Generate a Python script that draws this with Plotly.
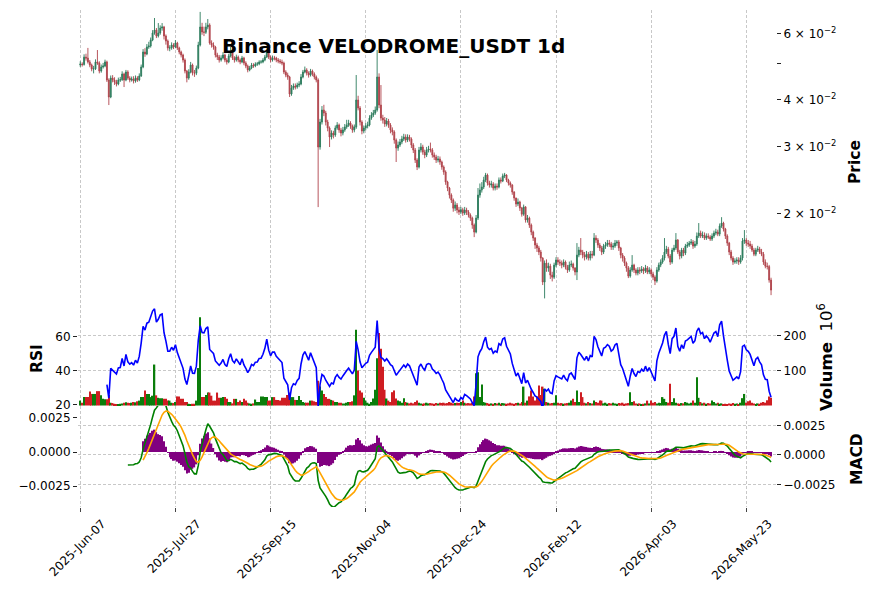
import numpy as np
import pandas as pd
import plotly.graph_objects as go

# ---------------- data (prices in 1e-5 USDT, volume in millions) ----------------
start_date = "2025-06-07"
first_open_e5 = 4950

close_e5 = [
    4976, 4960, 5190, 5160, 5040, 4946, 4826, 4830, 5040, 5007,
    4768, 4887, 4916, 5040, 4513, 4068, 4568, 4513, 4458, 4404,
    4513, 4520, 4681, 4513, 4739, 4568, 4513, 4541, 4486, 4568,
    4513, 4625, 4887, 5354, 5289, 5521, 5554, 5761, 6014, 6124,
    5904, 6014, 6199, 6237, 5904, 5726, 5487, 5490, 5588, 5521,
    5657, 5487, 5354, 5257, 5099, 4768, 4568, 4739, 4946, 4710,
    4705, 4856, 5588, 6237, 6050, 6040, 6237, 6313, 5657, 5588,
    5521, 5257, 5193, 5099, 5162, 5257, 5099, 5037, 5225, 5354,
    5162, 5099, 5193, 5099, 5037, 5162, 5007, 4916, 4797, 4856,
    4946, 4916, 4976, 4980, 5037, 5040, 5099, 5193, 5354, 5193,
    5099, 5162, 5160, 5099, 5068, 5037, 5007, 4739, 4653, 4597,
    4143, 4298, 4351, 4324, 4377, 4404, 4597, 4739, 4797, 4710,
    4653, 4768, 4681, 4597, 4513, 2998, 3492, 3758, 3690, 3492,
    3366, 3187, 3265, 3226, 3366, 3429, 3326, 3265, 3326, 3387,
    3429, 3471, 3408, 3326, 3387, 3994, 3804, 3492, 3306, 3366,
    3408, 3429, 3578, 3645, 3690, 3758, 4597, 3874, 3578, 3535,
    3450, 3514, 3429, 3326, 3286, 3129, 2979, 3035, 3092, 3148,
    3187, 3129, 3187, 3148, 3035, 2943, 2769, 2654, 2943, 2998,
    2907, 2855, 2943, 2961, 2945, 2855, 2820, 2769, 2786, 2736,
    2654, 2574, 2422, 2334, 2236, 2169, 2064, 2104, 2041, 2016,
    2045, 2004, 2041, 2016, 1979, 1943, 1862, 1784, 1943, 2236,
    2306, 2348, 2451, 2527, 2406, 2377, 2391, 2334, 2362, 2348,
    2451, 2436, 2512, 2527, 2451, 2406, 2377, 2278, 2196, 2117,
    2143, 2066, 1990, 2080, 1920, 1943, 1862, 1784, 1720, 1648,
    1619, 1579, 1522, 1315, 1476, 1432, 1449, 1372, 1355, 1458,
    1504, 1486, 1476, 1458, 1486, 1440, 1415, 1458, 1467, 1432,
    1398, 1550, 1598, 1579, 1550, 1531, 1559, 1522, 1560, 1550,
    1720, 1699, 1648, 1619, 1579, 1638, 1648, 1668, 1658, 1628,
    1638, 1668, 1679, 1619, 1550, 1522, 1476, 1432, 1364, 1415,
    1458, 1415, 1389, 1415, 1407, 1424, 1407, 1432, 1398, 1415,
    1381, 1355, 1323, 1415, 1458, 1486, 1522, 1579, 1608, 1541,
    1486, 1598, 1619, 1699, 1579, 1541, 1598, 1569, 1638, 1648,
    1668, 1679, 1638, 1658, 1741, 1773, 1741, 1752, 1720, 1741,
    1730, 1710, 1741, 1773, 1784, 1762, 1851, 1885, 1817, 1741,
    1668, 1579, 1522, 1486, 1495, 1504, 1486, 1522, 1689, 1699,
    1668, 1658, 1638, 1598, 1559, 1598, 1608, 1579, 1559, 1486,
    1449, 1445, 1331, 1252,
]

high_e5 = [
    5060, 5030, 5280, 5300, 5490, 5100, 4990, 4920, 5120, 5420,
    5060, 4960, 5010, 5110, 5080, 4560, 4640, 4650, 4590, 4520,
    4580, 4600, 4760, 4720, 4800, 4790, 4620, 4610, 4620, 4640,
    4620, 4700, 4960, 5450, 5480, 5620, 5700, 5850, 6120, 6590,
    6200, 6390, 6300, 6390, 6280, 5960, 5780, 5580, 5680, 5650,
    5760, 5700, 5530, 5400, 5300, 5150, 4800, 4820, 5040, 4990,
    4800, 4930, 5700, 6840, 6400, 6250, 6400, 6550, 6380, 5750,
    5680, 5560, 5330, 5260, 5250, 5350, 5300, 5160, 5300, 5520,
    5400, 5220, 5270, 5240, 5150, 5230, 5200, 5060, 4960, 4920,
    5010, 5000, 5030, 5040, 5090, 5100, 5160, 5260, 5430, 5390,
    5240, 5240, 5230, 5200, 5160, 5130, 5110, 5050, 4790, 4720,
    4630, 4380, 4420, 4420, 4440, 4480, 4680, 4800, 4900, 4850,
    4760, 4830, 4810, 4730, 4640, 4560, 3560, 3850, 3880, 3740,
    3540, 3400, 3320, 3310, 3420, 3490, 3460, 3370, 3390, 3450,
    3540, 3540, 3510, 3440, 3440, 4653, 4100, 3850, 3530, 3420,
    3470, 3500, 3640, 3710, 3760, 3840, 5420, 4700, 4377, 3650,
    3600, 3580, 3560, 3470, 3380, 3320, 3160, 3100, 3150, 3210,
    3250, 3240, 3240, 3230, 3180, 3070, 2980, 2800, 3000, 3070,
    3040, 2950, 3000, 3020, 3080, 2980, 2900, 2860, 2840, 2830,
    2760, 2680, 2600, 2440, 2350, 2260, 2190, 2150, 2130, 2080,
    2080, 2070, 2080, 2070, 2040, 2000, 1960, 1880, 1980, 2334,
    2400, 2420, 2500, 2560, 2550, 2440, 2440, 2420, 2400, 2400,
    2490, 2490, 2550, 2560, 2540, 2470, 2430, 2390, 2290, 2200,
    2190, 2160, 2080, 2110, 2090, 1980, 1960, 1880, 1800, 1730,
    1670, 1640, 1600, 1530, 1500, 1510, 1480, 1470, 1400, 1480,
    1530, 1530, 1510, 1500, 1510, 1500, 1460, 1490, 1500, 1480,
    1440, 1668, 1630, 1720, 1600, 1580, 1590, 1580, 1590, 1590,
    1773, 1750, 1720, 1670, 1640, 1660, 1680, 1700, 1700, 1680,
    1670, 1700, 1699, 1700, 1630, 1570, 1540, 1490, 1450, 1440,
    1550, 1470, 1430, 1440, 1440, 1450, 1440, 1460, 1450, 1440,
    1430, 1400, 1370, 1440, 1480, 1510, 1550, 1720, 1640, 1630,
    1560, 1620, 1650, 1773, 1710, 1600, 1620, 1620, 1660, 1680,
    1690, 1710, 1700, 1690, 1780, 1885, 1800, 1790, 1780, 1770,
    1770, 1750, 1770, 1800, 1820, 1810, 1880, 1954, 1900, 1830,
    1760, 1680, 1600, 1540, 1520, 1530, 1530, 1550, 1720, 1806,
    1720, 1700, 1690, 1660, 1620, 1620, 1640, 1630, 1610, 1580,
    1510, 1480, 1460, 1350,
]

low_e5 = [
    4890, 4900, 4930, 5080, 4990, 4880, 4760, 4700, 4800, 4950,
    4700, 4720, 4840, 4880, 4460, 3874, 4040, 4450, 4380, 4340,
    4370, 4460, 4490, 4324, 4480, 4520, 4450, 4470, 4420, 4440,
    4460, 4480, 4600, 4850, 5200, 5250, 5460, 5500, 5720, 5950,
    5830, 5850, 5950, 6100, 5780, 5600, 5400, 5380, 5430, 5450,
    5480, 5420, 5280, 5180, 5020, 4700, 4450, 4520, 4700, 4640,
    4600, 4650, 4820, 5540, 5950, 5900, 5980, 6150, 5600, 5500,
    5430, 5180, 5100, 5020, 5050, 5120, 5030, 4960, 5000, 5180,
    5100, 5020, 5050, 5030, 4970, 5000, 4940, 4850, 4730, 4760,
    4820, 4860, 4880, 4920, 4940, 4990, 5000, 5060, 5160, 5130,
    5030, 5050, 5090, 5030, 5000, 4980, 4940, 4680, 4590, 4520,
    4068, 4100, 4250, 4260, 4280, 4320, 4370, 4560, 4700, 4640,
    4580, 4610, 4620, 4530, 4450, 2078, 2950, 3440, 3620, 3420,
    3300, 2998, 3140, 3160, 3190, 3330, 3270, 3200, 3220, 3290,
    3350, 3390, 3350, 3270, 3280, 3350, 3750, 3420, 3240, 3260,
    3320, 3360, 3400, 3540, 3600, 3650, 3720, 3800, 3520, 3460,
    3390, 3400, 3370, 3260, 3220, 3060, 2736, 2930, 3000, 3050,
    3110, 3080, 3090, 3100, 2980, 2890, 2720, 2605, 2630, 2900,
    2860, 2800, 2820, 2900, 2900, 2810, 2770, 2720, 2730, 2690,
    2610, 2530, 2380, 2290, 2190, 2130, 2020, 2030, 2000, 1980,
    1990, 1970, 1980, 1980, 1950, 1910, 1820, 1730, 1770, 1920,
    2200, 2270, 2320, 2420, 2370, 2340, 2340, 2300, 2300, 2310,
    2330, 2400, 2420, 2480, 2420, 2370, 2340, 2240, 2160, 2080,
    2090, 2030, 1960, 1970, 1890, 1890, 1830, 1750, 1690, 1610,
    1580, 1550, 1490, 1291, 1190, 1400, 1400, 1340, 1320, 1340,
    1440, 1460, 1450, 1430, 1440, 1420, 1390, 1400, 1440, 1410,
    1370, 1331, 1530, 1550, 1520, 1500, 1510, 1500, 1500, 1520,
    1540, 1670, 1620, 1590, 1550, 1560, 1610, 1630, 1630, 1600,
    1600, 1620, 1640, 1590, 1520, 1490, 1450, 1400, 1347, 1350,
    1400, 1390, 1370, 1370, 1380, 1390, 1380, 1390, 1380, 1380,
    1360, 1330, 1291, 1310, 1400, 1440, 1470, 1500, 1560, 1520,
    1460, 1470, 1580, 1600, 1560, 1510, 1520, 1540, 1550, 1620,
    1630, 1650, 1610, 1620, 1640, 1720, 1720, 1720, 1700, 1700,
    1710, 1690, 1690, 1720, 1750, 1740, 1740, 1830, 1790, 1710,
    1640, 1550, 1500, 1460, 1470, 1470, 1460, 1470, 1500, 1660,
    1640, 1630, 1610, 1580, 1540, 1540, 1580, 1560, 1540, 1460,
    1430, 1420, 1310, 1214,
]

volume_m = [
    14, 8, 24, 24, 24, 40, 33, 33, 33, 41,
    41, 29, 19, 18, 18, 30, 8, 7, 5, 4,
    3, 5, 6, 8, 9, 8, 7, 8, 10, 9,
    12, 14, 24, 24, 43, 33, 33, 24, 28, 117,
    29, 22, 21, 21, 19, 19, 14, 14, 8, 7,
    10, 26, 26, 19, 19, 10, 10, 5, 4, 5,
    5, 14, 107, 252, 24, 24, 30, 37, 37, 28,
    14, 14, 37, 22, 22, 24, 24, 19, 10, 10,
    6, 19, 19, 10, 14, 10, 19, 14, 8, 6,
    5, 6, 17, 10, 10, 26, 26, 24, 24, 14,
    14, 24, 24, 16, 16, 14, 22, 22, 22, 30,
    37, 24, 24, 16, 16, 27, 16, 10, 8, 8,
    8, 14, 14, 12, 10, 71, 54, 43, 33, 24,
    19, 19, 16, 14, 10, 10, 8, 8, 6, 6,
    8, 10, 10, 12, 29, 216, 100, 43, 37, 22,
    14, 8, 5, 10, 20, 45, 135, 207, 162, 111,
    45, 20, 14, 10, 38, 43, 20, 14, 12, 8,
    21, 10, 8, 6, 8, 6, 10, 14, 8, 6,
    5, 6, 8, 6, 7, 6, 5, 7, 6, 8,
    7, 8, 6, 7, 10, 8, 6, 7, 8, 7,
    10, 14, 8, 6, 7, 6, 8, 26, 92, 95,
    24, 60, 10, 8, 7, 5, 6, 5, 7, 6,
    8, 5, 7, 6, 5, 6, 8, 6, 5, 7,
    8, 6, 10, 54, 8, 14, 26, 43, 26, 14,
    26, 57, 30, 54, 48, 10, 8, 6, 7, 8,
    29, 8, 6, 7, 5, 6, 7, 8, 14, 19,
    10, 43, 10, 38, 24, 8, 6, 10, 7, 6,
    14, 10, 8, 14, 14, 6, 8, 5, 7, 6,
    8, 6, 5, 7, 6, 8, 5, 6, 7, 38,
    10, 12, 6, 5, 6, 4, 5, 6, 14, 6,
    14, 8, 10, 6, 8, 7, 24, 19, 10, 8,
    62, 10, 21, 8, 6, 5, 7, 6, 10, 8,
    6, 8, 14, 8, 81, 22, 10, 6, 8, 5,
    7, 6, 14, 10, 6, 8, 5, 6, 4, 5,
    4, 6, 5, 7, 5, 6, 4, 8, 21, 33,
    8, 12, 14, 8, 6, 4, 6, 5, 8, 10,
    8, 15, 26, 22,
]

price_ticks = [0.02, 0.03, 0.04, 0.05, 0.06]
price_ticktext = ["2 × 10<sup>−2</sup>", "3 × 10<sup>−2</sup>", "4 × 10<sup>−2</sup>", " ",
                  "6 × 10<sup>−2</sup>"]
rsi_ticks = [20, 40, 60]
vol_ticks = [100, 200]
macd_ticks = [-0.0025, 0.0, 0.0025]
macd_ticktext = ["−0.0025", "0.0000", "0.0025"]

# ---------------- derived series ----------------
N = min(len(close_e5), len(high_e5), len(low_e5), len(volume_m))
close = np.array(close_e5[:N], dtype=float) / 1e5
high = np.array(high_e5[:N], dtype=float) / 1e5
low = np.array(low_e5[:N], dtype=float) / 1e5
opens = np.concatenate([[first_open_e5 / 1e5], close[:-1]])
vol = np.array(volume_m[:N], dtype=float)
dates = pd.date_range(start_date, periods=N, freq="D")
xi = np.arange(N)

s = pd.Series(close)
d = s.diff()
gain = d.clip(lower=0)
loss = -d.clip(upper=0)
ag = gain.ewm(alpha=1 / 14, adjust=False, min_periods=14).mean()
al = loss.ewm(alpha=1 / 14, adjust=False, min_periods=14).mean()
rsi = 100 - 100 / (1 + ag / al)

e12 = s.ewm(span=12, adjust=False, min_periods=12).mean()
e26 = s.ewm(span=26, adjust=False, min_periods=26).mean()
macd = e12 - e26
signal = macd.ewm(span=9, adjust=False, min_periods=9).mean()
hist = macd - signal

UP, DOWN = "#2b7c5c", "#b0434b"
VGREEN, VRED = "#0a7d0a", "#cf1d22"
vcolors = [VGREEN if c >= o else VRED for c, o in zip(close, opens)]

tick_idx = list(range(0, N, 50))
tick_txt = [dates[i].strftime("%Y-%b-%d") for i in tick_idx]

FONT = "DejaVu Sans"
GRID = "#c8c8c8"
DASH = "3px,2px"

fig = go.Figure()
fig.add_trace(go.Candlestick(
    x=xi, open=opens, high=high, low=low, close=close,
    increasing=dict(line=dict(color=UP, width=0.9), fillcolor=UP),
    decreasing=dict(line=dict(color=DOWN, width=0.9), fillcolor=DOWN),
    whiskerwidth=0, xaxis="x", yaxis="y", hoverinfo="skip", showlegend=False))
fig.add_trace(go.Bar(x=xi, y=vol, marker=dict(color=vcolors, line=dict(width=0)),
                     width=0.8, xaxis="x2", yaxis="y2", showlegend=False, hoverinfo="skip"))
fig.add_trace(go.Scatter(x=xi, y=rsi, mode="lines", line=dict(color="#0000ff", width=1.6),
                         xaxis="x2", yaxis="y3", showlegend=False, hoverinfo="skip"))
fig.add_trace(go.Scatter(x=[0], y=[0], mode="markers", marker=dict(opacity=0),
                         xaxis="x3", yaxis="y4", showlegend=False, hoverinfo="skip"))
fig.add_trace(go.Bar(x=xi, y=hist, marker=dict(color="#800080", line=dict(width=0)),
                     width=0.75, xaxis="x3", yaxis="y5", showlegend=False, hoverinfo="skip"))
fig.add_trace(go.Scatter(x=xi, y=macd, mode="lines", line=dict(color="#008000", width=1.6),
                         xaxis="x3", yaxis="y5", showlegend=False, hoverinfo="skip"))
fig.add_trace(go.Scatter(x=xi, y=signal, mode="lines", line=dict(color="#ffa500", width=1.6),
                         xaxis="x3", yaxis="y5", showlegend=False, hoverinfo="skip"))

W, H = 876, 600
L_PX, R_PX = 78, 776
xdom = [L_PX / W, R_PX / W]
def ydom(top_px, bot_px):
    return [1 - bot_px / H, 1 - top_px / H]

tickfont = dict(family=FONT, size=12, color="black")
xcommon = dict(domain=xdom, range=[-1.2, 365.6], tickmode="array", tickvals=tick_idx,
               showgrid=True, griddash=DASH, gridcolor=GRID, gridwidth=0.8,
               zeroline=False, showline=False)
ycommon = dict(zeroline=False, showline=False, ticks="outside", ticklen=4, tickwidth=1,
               tickcolor="#222", tickfont=tickfont)

fig.update_layout(
    width=W, height=H, margin=dict(l=0, r=0, t=0, b=0),
    paper_bgcolor="white", plot_bgcolor="white", template="none",
    barmode="overlay", hovermode=False, showlegend=False,
    font=dict(family=FONT, color="black"),
    xaxis=dict(**xcommon, anchor="y", showticklabels=False, ticks="",
               rangeslider=dict(visible=False)),
    xaxis2=dict(**xcommon, anchor="y2", matches="x", showticklabels=False, ticks=""),
    xaxis3=dict(**xcommon, anchor="y4", matches="x", ticktext=tick_txt, ticks="outside",
                ticklen=4, tickcolor="#444", tickangle=-45, tickfont=tickfont,
                ticklabelshift=22),
    yaxis=dict(**ycommon, domain=ydom(10, 305), type="log",
               range=[np.log10(0.01143), np.log10(0.0692)], side="right", anchor="x",
               tickmode="array", tickvals=price_ticks, ticktext=price_ticktext, showgrid=False),
    yaxis2=dict(**ycommon, domain=ydom(305, 406), range=[-1.4, 287], side="right", anchor="x2",
                tickmode="array", tickvals=vol_ticks, showgrid=True, griddash=DASH,
                gridcolor=GRID, gridwidth=0.8),
    yaxis3=dict(**ycommon, overlaying="y2", range=[19.4, 78.6], side="left", anchor="x2",
                tickmode="array", tickvals=rsi_ticks, showgrid=False),
    yaxis4=dict(**ycommon, domain=ydom(406, 507), range=[-0.00441, 0.00415], side="right",
                anchor="x3", tickmode="array", tickvals=macd_ticks, ticktext=macd_ticktext,
                showgrid=True, griddash=DASH, gridcolor=GRID, gridwidth=0.8),
    yaxis5=dict(**ycommon, overlaying="y4", range=[-0.00404, 0.00338], side="left", anchor="x3",
                tickmode="array", tickvals=macd_ticks, ticktext=macd_ticktext, showgrid=False),
)

lab = dict(family=FONT, size=15.5, color="black")
ann = [
    dict(text="<b>Binance VELODROME_USDT 1d</b>", x=393 / W, y=1 - 46 / H,
         font=dict(family=FONT, size=20, color="black")),
    dict(text="<b>Price</b>", x=855 / W, y=1 - 162 / H, textangle=-90, font=lab),
    dict(text="<b>RSI</b>", x=37 / W, y=1 - 359 / H, textangle=-90, font=lab),
    dict(text="<b>Volume</b>  10<sup>6</sup>", x=825 / W, y=1 - 357 / H, textangle=-90,
         font=dict(family=FONT, size=16.5, color="black")),
    dict(text="<b>MACD</b>", x=857 / W, y=1 - 459 / H, textangle=-90, font=lab),
]
for a in ann:
    fig.add_annotation(xref="paper", yref="paper", showarrow=False,
                       xanchor="center", yanchor="middle", **a)

fig.write_html("out.html")
